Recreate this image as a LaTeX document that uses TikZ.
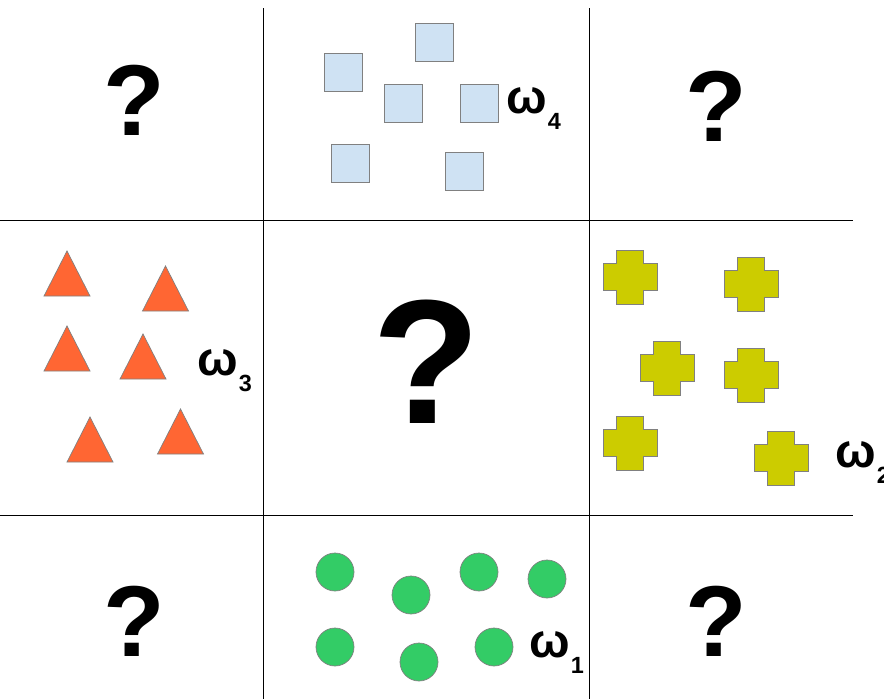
\documentclass[tikz,border=0pt]{standalone}
\usepackage{fontspec}
\setmainfont{Liberation Sans}
\definecolor{sqblue}{HTML}{CFE2F3}
\definecolor{dotgreen}{HTML}{33CC66}
\definecolor{triorange}{HTML}{FF6633}
\definecolor{plusyellow}{HTML}{CCCC00}
\definecolor{shapegray}{HTML}{808080}
\usetikzlibrary{positioning}
\newcommand{\omlab}[1]{{\fontsize{41}{41}\selectfont ω}\kern1pt\raisebox{-14pt}{\fontsize{20}{20}\selectfont #1}}

\begin{document}
\begin{tikzpicture}[x=0.03cm, y=-0.03cm,
  gridline/.style={draw=black, line width=0.8pt},
  sqbox/.style={draw=shapegray, fill=sqblue, line width=0.6pt, minimum size=1.14cm, inner sep=0pt},
  dot/.style={circle, draw=shapegray, fill=dotgreen, line width=0.6pt, minimum size=1.14cm, inner sep=0pt},
  qmark/.style={font=\fontsize{86}{86}\selectfont\bfseries, inner sep=0pt},
  omega/.style={anchor=base west, inner sep=0pt, font=\bfseries},
  tri/.pic={\draw[draw=shapegray, fill=triorange, line width=0.6pt] (-23,0) -- (0,-45) -- (23,0) -- cycle;},
  plus/.pic={\draw[draw=shapegray, fill=plusyellow, line width=0.6pt] (-13.5,-27) -- (13.5,-27) -- (13.5,-13.5) -- (27,-13.5) -- (27,13.5) -- (13.5,13.5) -- (13.5,27) -- (-13.5,27) -- (-13.5,13.5) -- (-27,13.5) -- (-27,-13.5) -- (-13.5,-13.5) -- cycle;}]
  \useasboundingbox (0,0) rectangle (884,699);
  % 3x3 grid
  \draw[gridline] (263.5,8) -- (263.5,699);
  \draw[gridline] (589,8) -- (589,699);
  \draw[gridline] (0,220) -- (853,220);
  \draw[gridline] (0,515) -- (853,515);
  % unknown cells
  \node[qmark] (q1) at (134,100) {?};
  \node[qmark] (q2) at (716,106) {?};
  \node[qmark] (q3) at (134,621) {?};
  \node[qmark] (q4) at (716,621) {?};
  \node[qmark, font=\fontsize{151}{151}\selectfont\bfseries] (q0) at (427,362) {?};
  % class 4: squares
  \node[sqbox] (s1) at (434,42) {};
  \node[sqbox] (s2) at (343,72) {};
  \node[sqbox] (s3) at (403,103) {};
  \node[sqbox] (s4) at (479,103) {};
  \node[sqbox] (s5) at (350,163) {};
  \node[sqbox] (s6) at (464,171) {};
  \node[omega] (w4) at (506,113) {\omlab{4}};
  % class 3: triangles
  \pic at (67,296) {tri};
  \pic at (165.5,311) {tri};
  \pic at (67,371) {tri};
  \pic at (143,379) {tri};
  \pic at (90,462) {tri};
  \pic at (180.5,454) {tri};
  \node[omega] (w3) at (197,375) {\omlab{3}};
  % class 2: crosses
  \pic at (630,277) {plus};
  \pic at (751,284) {plus};
  \pic at (667,368) {plus};
  \pic at (751,375) {plus};
  \pic at (630,443) {plus};
  \pic at (781,458) {plus};
  \node[omega] (w2) at (835,467) {\omlab{2}};
  % class 1: circles
  \node[dot] (c1) at (335,572) {};
  \node[dot] (c2) at (411,595) {};
  \node[dot] (c3) at (479,572) {};
  \node[dot] (c4) at (547,579) {};
  \node[dot] (c5) at (335,647) {};
  \node[dot] (c6) at (419,662) {};
  \node[dot] (c7) at (494,647) {};
  \node[omega] (w1) at (529,657) {\omlab{1}};
\end{tikzpicture}
\end{document}
